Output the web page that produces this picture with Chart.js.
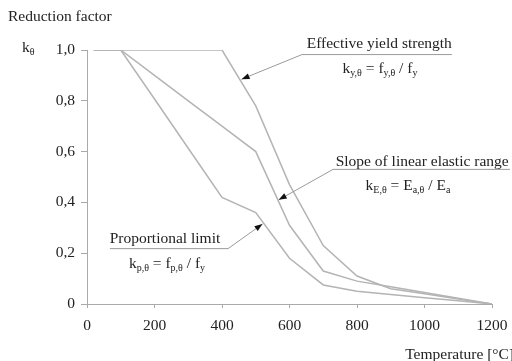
<!DOCTYPE html>
<html><head><meta charset="utf-8">
<script src="https://cdn.jsdelivr.net/npm/chart.js@4/dist/chart.umd.min.js"></script>
<style>html,body{margin:0;padding:0;background:#fff}#wrap{width:512px;height:361px}</style>
</head><body><div id="wrap"><canvas id="c" width="512" height="361"></canvas></div>
<script>
const temperatures = [20, 100, 200, 300, 400, 500, 600, 700, 800, 900, 1000, 1100, 1200];
const kyTheta = [1.0, 1.0, 1.0, 1.0, 1.0, 0.78, 0.47, 0.23, 0.11, 0.06, 0.04, 0.02, 0.0];
const kpTheta = [1.0, 1.0, 0.807, 0.613, 0.42, 0.36, 0.18, 0.075, 0.05, 0.0375, 0.025, 0.0125, 0.0];
const kETheta = [1.0, 1.0, 0.9, 0.8, 0.7, 0.6, 0.31, 0.13, 0.09, 0.0675, 0.045, 0.0225, 0.0];
const xTicks = [0, 200, 400, 600, 800, 1000, 1200];
const yTicks = [0, 0.2, 0.4, 0.6, 0.8, 1.0];

const SERIF = '"Liberation Serif", "DejaVu Serif", serif';
const LINE = '#b4b4b4';
const TEXT = '#222';
const FS = 15.5;

// annotations in data coordinates
const annotations = [
  { label: 'Effective yield strength', lx: 866, ly: 1.022,
    ul: [637, 1081, 0.982], tip: [458, 0.885],
    formula: [['k',0],['y,θ',1],[' = f',0],['y,θ',1],[' / f',0],['y',1]], fx: 868, fy: 0.93 },
  { label: 'Slope of linear elastic range', lx: 993, ly: 0.56,
    ul: [729, 1253, 0.53], tip: [568, 0.41],
    formula: [['k',0],['E,θ',1],[' = E',0],['a,θ',1],[' / E',0],['a',1]], fx: 951, fy: 0.468 },
  { label: 'Proportional limit', lx: 231, ly: 0.257,
    ul: [68, 418, 0.218, 'right'], tip: [520, 0.315],
    formula: [['k',0],['p,θ',1],[' = f',0],['p,θ',1],[' / f',0],['y',1]], fx: 237, fy: 0.161 }
];

function drawSegs(ctx, segs, cx, cy, center) {
  const main = FS + 'px ' + SERIF, sub = '10px ' + SERIF;
  let w = 0;
  segs.forEach(s => { ctx.font = s[1] ? sub : main; w += ctx.measureText(s[0]).width; });
  let x = center ? cx - w / 2 : cx;
  ctx.textAlign = 'left';
  ctx.textBaseline = 'alphabetic';
  segs.forEach(s => {
    ctx.font = s[1] ? sub : main;
    ctx.fillText(s[0], x, s[1] ? cy + 8 : cy + 5);
    x += ctx.measureText(s[0]).width;
  });
}

function arrow(ctx, x0, y0, x1, y1) {
  ctx.beginPath(); ctx.moveTo(x0, y0); ctx.lineTo(x1, y1); ctx.stroke();
  const a = Math.atan2(y1 - y0, x1 - x0), L = 8, W = 3;
  ctx.save();
  ctx.fillStyle = '#111';
  ctx.beginPath();
  ctx.moveTo(x1, y1);
  ctx.lineTo(x1 - L * Math.cos(a) + W * Math.sin(a), y1 - L * Math.sin(a) - W * Math.cos(a));
  ctx.lineTo(x1 - L * Math.cos(a) - W * Math.sin(a), y1 - L * Math.sin(a) + W * Math.cos(a));
  ctx.closePath(); ctx.fill();
  ctx.restore();
}

const annotPlugin = {
  id: 'annot',
  afterDraw(chart) {
    const ctx = chart.ctx, xs = chart.scales.x, ys = chart.scales.y;
    const X = v => xs.getPixelForValue(v), Y = v => ys.getPixelForValue(v);
    ctx.save();
    ctx.fillStyle = TEXT;
    ctx.font = FS + 'px ' + SERIF;
    ctx.textAlign = 'left'; ctx.textBaseline = 'middle';
    ctx.fillText('Reduction factor', 8, 17);
    ctx.textAlign = 'right';
    ctx.fillText('Temperature [°C]', 514, 355);
    drawSegs(ctx, [['k',0],['θ',1]], 22, Y(1.0) - 3, false);
    ctx.strokeStyle = '#9a9a9a'; ctx.lineWidth = 1;
    annotations.forEach(a => {
      ctx.fillStyle = TEXT;
      ctx.font = FS + 'px ' + SERIF;
      ctx.textAlign = 'center'; ctx.textBaseline = 'middle';
      ctx.fillText(a.label, X(a.lx), Y(a.ly));
      const uy = Y(a.ul[2]);
      ctx.beginPath(); ctx.moveTo(X(a.ul[0]), uy); ctx.lineTo(X(a.ul[1]), uy); ctx.stroke();
      const sx = a.ul[3] === 'right' ? X(a.ul[1]) : X(a.ul[0]);
      arrow(ctx, sx, uy, X(a.tip[0]), Y(a.tip[1]));
      ctx.fillStyle = TEXT;
      drawSegs(ctx, a.formula, X(a.fx), Y(a.fy), true);
    });
    ctx.restore();
  }
};

const mk = (arr) => temperatures.map((t, i) => ({ x: t, y: arr[i] }));
const ds = (label, arr) => ({ label, data: mk(arr), borderColor: LINE, borderWidth: 1.5,
  pointRadius: 0, fill: false, tension: 0 });

new Chart(document.getElementById('c'), {
  type: 'line',
  data: { datasets: [ds('ky', kyTheta), ds('kE', kETheta), ds('kp', kpTheta)] },
  options: {
    responsive: false, animation: false, devicePixelRatio: 1,
    layout: { padding: { top: 50, right: 20, left: 0, bottom: 0 } },
    plugins: { legend: { display: false }, tooltip: { enabled: false } },
    scales: {
      x: {
        type: 'linear', min: 0, max: 1200,
        afterBuildTicks: s => { s.ticks = xTicks.map(v => ({ value: v })); },
        afterFit: s => { s.height = 57; s.paddingRight = 0; s.paddingLeft = 0; },
        grid: { drawOnChartArea: false, drawTicks: true, tickLength: 4, color: '#aaa' },
        border: { color: '#aaa', width: 1 },
        ticks: { color: TEXT, font: { family: SERIF, size: FS }, padding: 9, maxRotation: 0,
          callback: v => String(v) }
      },
      y: {
        min: 0, max: 1.0,
        afterBuildTicks: s => { s.ticks = yTicks.map(v => ({ value: v })); },
        afterFit: s => { s.width = 87; },
        grid: { drawOnChartArea: false, drawTicks: true, tickLength: 6, color: '#aaa' },
        border: { color: '#aaa', width: 1 },
        ticks: { color: TEXT, font: { family: SERIF, size: FS }, padding: 6,
          callback: v => v === 0 ? '0' : v.toFixed(1).replace('.', ',') }
      }
    }
  },
  plugins: [annotPlugin]
});
</script></body></html>
